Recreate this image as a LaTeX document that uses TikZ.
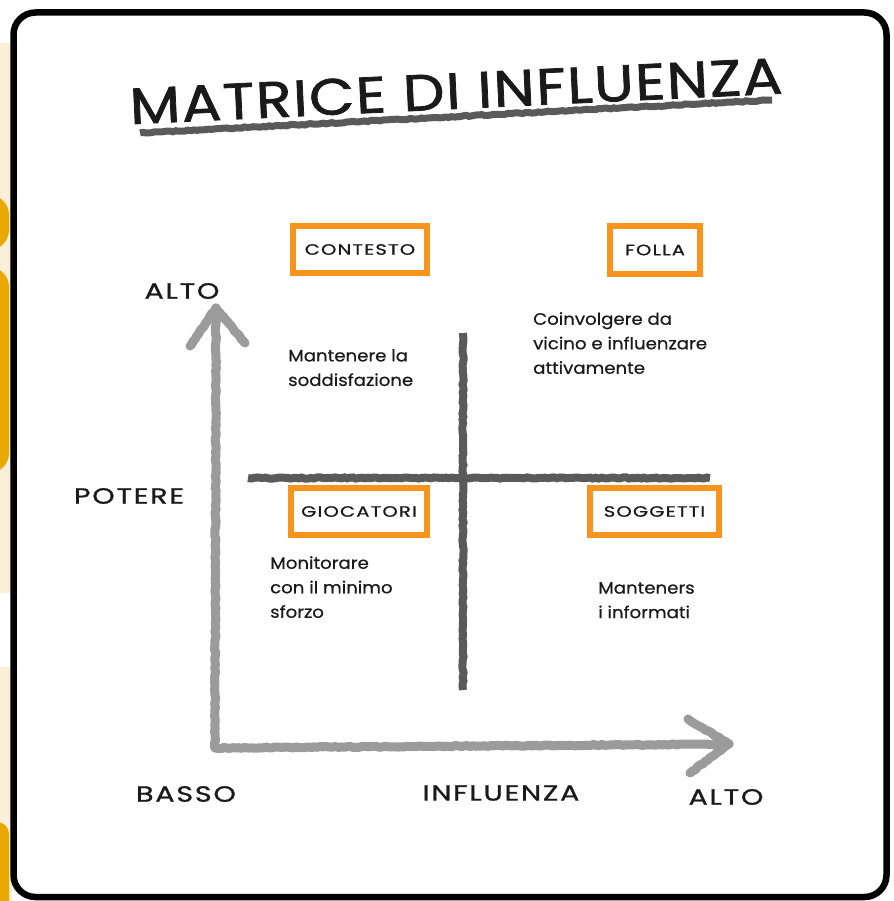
\documentclass[tikz,border=0pt]{standalone}
\usepackage{fontspec}
\setmainfont{Poppins}[FakeStretch=1.1, FakeBold=0.6]
\newfontfamily\capsfont{Poppins}[FakeStretch=1.3, LetterSpace=8, FakeBold=1]
\newfontfamily\titlefont{Poppins}[FakeStretch=1.15, LetterSpace=3, FakeBold=1.5]
\usetikzlibrary{decorations.pathmorphing}

\definecolor{cream}{HTML}{FBEFD9}
\definecolor{amber}{HTML}{E9A800}
\definecolor{boxorange}{HTML}{F7941E}
\definecolor{axisgray}{HTML}{9B9B9B}
\definecolor{gridgray}{HTML}{5A5A5A}
\definecolor{inkblack}{HTML}{1A1A1A}

\tikzset{
  rough/.style={decorate, decoration={random steps, segment length=3pt, amplitude=0.6pt}},
  axislbl/.style={inner sep=0pt, text=inkblack, font=\capsfont\fontsize{22}{24}\selectfont},
  quadbox/.style={draw=boxorange, line width=6pt, inner sep=0pt, text=inkblack,
    font=\capsfont\fontsize{15}{18}\selectfont},
  note/.style={align=left, anchor=north west, inner sep=0pt, text=inkblack,
    font=\fontsize{16.5}{24.5}\selectfont},
  axisline/.style={draw=axisgray, line width=9pt, line cap=round, line join=round, rough},
  gridline/.style={draw=gridgray, line width=8pt, rough},
}

\begin{document}
\begin{tikzpicture}[x=1pt,y=-1pt]
    \useasboundingbox (0,0) rectangle (893,901);

    % strip left of the frame
    \fill[cream] (0,43) rectangle (12,593);
    \fill[cream] (0,667) rectangle (12,901);
    \begin{scope}
        \clip (0,0) rectangle (893,901);
        \fill[amber, rounded corners=20pt] (-30,195) rectangle (9,250);
        \fill[amber, rounded corners=20pt] (-30,267) rectangle (9,473);
        \fill[amber, rounded corners=12pt] (-30,822) rectangle (9,930);
    \end{scope}

    % frame
    \draw[line width=6.5pt, fill=white, rounded corners=22pt] (13.5,12.5) rectangle (886.5,897);

    % title
    \node[inner sep=0pt, rotate=2.7, text=inkblack, font=\titlefont\fontsize{51}{56}\selectfont]
        (title) at (456,91) {MATRICE DI INFLUENZA};
    \coordinate (ulA) at (140,133);
    \coordinate (ulB) at (772,100);
    \draw[gridline, line width=7pt] (ulA) -- (ulB);

    % axes
    \coordinate (origin) at (215,748);
    \coordinate (vtip) at (216,308);
    \coordinate (varml) at (190,346);
    \coordinate (varmr) at (245,343);
    \coordinate (htip) at (729,744);
    \coordinate (harmu) at (688,719);
    \coordinate (harmd) at (690,773);
    \draw[axisline] (vtip) -- (origin) -- (htip);
    \draw[axisline] (varml) -- (vtip) -- (varmr);
    \draw[axisline] (harmu) -- (htip) -- (harmd);

    % quadrant cross
    \coordinate (vtop) at (463,333);
    \coordinate (vbot) at (463,690);
    \coordinate (hleft) at (248,478);
    \coordinate (hright) at (710,478);
    \draw[gridline] (vtop) -- (vbot);
    \draw[gridline] (hleft) -- (hright);

    % axis labels
    \node[axislbl] (altoy) at (182,291) {ALTO};
    \node[axislbl] (potere) at (129,496) {POTERE};
    \node[axislbl] (basso) at (186,794) {BASSO};
    \node[axislbl] (influenza) at (501,793) {INFLUENZA};
    \node[axislbl] (altox) at (726,797) {ALTO};

    % quadrant boxes
    \node[quadbox, minimum width=134pt, minimum height=47pt] (contesto) at (360,249.5) {CONTESTO};
    \node[quadbox, minimum width=90pt, minimum height=48pt] (folla) at (655,250) {FOLLA};
    \node[quadbox, minimum width=136pt, minimum height=47pt] (giocatori) at (359,511.5) {GIOCATORI};
    \node[quadbox, minimum width=129pt, minimum height=47pt] (soggetti) at (654.5,511.5) {SOGGETTI};

    % notes
    \node[note] (ncontesto) at (288,349) {Mantenere la\\soddisfazione};
    \node[note] (nfolla) at (533,312) {Coinvolgere da\\vicino e influenzare\\attivamente};
    \node[note] (ngiocatori) at (270,556) {Monitorare\\con il minimo\\sforzo};
    \node[note] (nsoggetti) at (598,582) {Manteners\\i informati};
\end{tikzpicture}
\end{document}
